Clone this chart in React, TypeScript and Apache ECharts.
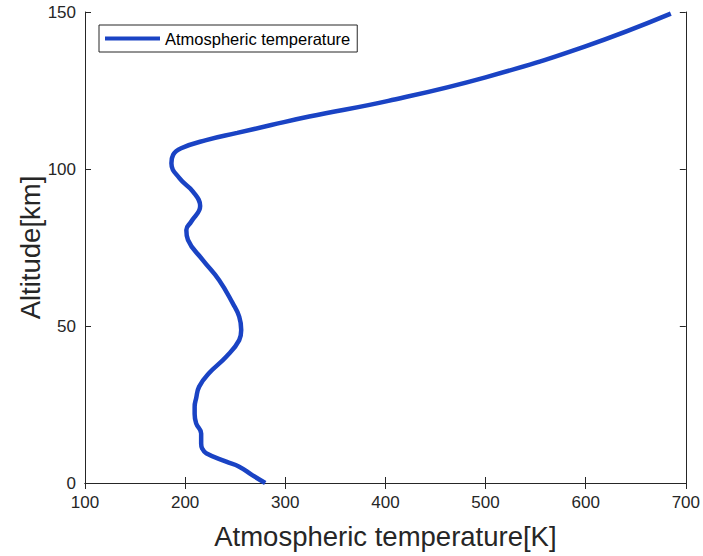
import React, { useEffect, useRef } from "react";
import * as echarts from "echarts";

// Altitude [km] and matching temperature [K]
const altitude = [
  0, 2.5, 5.2, 6.8, 9.5, 11, 12.6, 15.8, 19, 22, 24.3, 27, 30.7, 35, 40.2,
  45.5, 48.7, 53, 57.2, 64.6, 71, 77.4, 80.6, 83.2, 88.2, 92.8,
  97, 101.8, 104.5, 106.6, 109.2, 111.5, 114, 116.7, 121.7,
  129.2, 139, 149.5,
];
const temperature = [
  280, 267, 254, 241, 221, 217, 216, 216, 211, 209.5, 209.5, 211, 214,
  224, 241, 254, 256, 254, 247.6, 234, 217.7, 202.8, 201.2, 206,
  215, 207.8, 194.5, 186.3, 188, 196, 221, 252, 286, 324,
  403, 500, 599, 685,
];
const xTicks = [100, 200, 300, 400, 500, 600, 700];
const yTicks = [0, 50, 100, 150];
const seriesName = "Atmospheric temperature";
const xTitle = "Atmospheric temperature[K]";
const yTitle = "Altitude[km]";

const AXIS_COLOR = "#262626";
const LINE_COLOR = "#1a43c4";
const FONT = "'Liberation Sans', Arial, Helvetica, sans-serif";

export default function App() {
  const ref = useRef<HTMLDivElement>(null);

  useEffect(() => {
    if (!ref.current) return;
    const chart = echarts.init(ref.current, undefined, { renderer: "svg" });
    const data = altitude.map((h, i) => [temperature[i], h]);
    const axisLine = { show: true, lineStyle: { color: AXIS_COLOR, width: 1 } };
    const tick = { show: true, inside: true, length: 6, lineStyle: { color: AXIS_COLOR } };
    chart.setOption({
      animation: false,
      backgroundColor: "#ffffff",
      textStyle: { fontFamily: FONT },
      grid: { left: 85, right: 15, top: 12, bottom: 73, containLabel: false },
      legend: {
        show: true,
        left: 99,
        top: 25,
        padding: [5, 7, 5, 6],
        borderColor: AXIS_COLOR,
        borderWidth: 1,
        backgroundColor: "#ffffff",
        icon: "rect",
        itemWidth: 55,
        itemHeight: 4,
        itemGap: 5,
        textStyle: { fontSize: 16.5, color: "#000000", fontFamily: FONT },
        data: [seriesName],
      },
      xAxis: [
        {
          type: "value",
          min: xTicks[0],
          max: xTicks[xTicks.length - 1],
          interval: 100,
          position: "bottom",
          axisLine,
          axisTick: tick,
          splitLine: { show: false },
          axisLabel: { color: AXIS_COLOR, fontSize: 17, margin: 11, fontFamily: FONT },
          name: xTitle,
          nameLocation: "middle",
          nameGap: 39,
          nameMoveOverlap: false,
          nameTextStyle: { fontSize: 27.5, color: AXIS_COLOR, fontFamily: FONT },
        },
        {
          type: "value",
          min: xTicks[0],
          max: xTicks[xTicks.length - 1],
          interval: 100,
          position: "top",
          axisLine,
          axisTick: tick,
          splitLine: { show: false },
          axisLabel: { show: false },
        },
      ],
      yAxis: [
        {
          type: "value",
          min: yTicks[0],
          max: yTicks[yTicks.length - 1],
          interval: 50,
          position: "left",
          axisLine,
          axisTick: tick,
          splitLine: { show: false },
          axisLabel: { color: AXIS_COLOR, fontSize: 17, margin: 9, fontFamily: FONT },
          name: yTitle,
          nameLocation: "middle",
          nameGap: 41,
          nameMoveOverlap: false,
          nameTextStyle: { fontSize: 27.5, color: AXIS_COLOR, fontFamily: FONT },
        },
        {
          type: "value",
          min: yTicks[0],
          max: yTicks[yTicks.length - 1],
          interval: 50,
          position: "right",
          axisLine,
          axisTick: tick,
          splitLine: { show: false },
          axisLabel: { show: false },
        },
      ],
      series: [
        {
          name: seriesName,
          type: "line",
          xAxisIndex: 0,
          yAxisIndex: 0,
          data,
          smooth: 0.45,
          symbol: "none",
          showSymbol: false,
          lineStyle: { color: LINE_COLOR, width: 4.5 },
          itemStyle: { color: LINE_COLOR },
          clip: false,
        },
      ],
    });
    return () => chart.dispose();
  }, []);

  return (
    <div
      ref={ref}
      style={{ position: "fixed", left: 0, top: 0, width: 703, height: 556 }}
    />
  );
}
